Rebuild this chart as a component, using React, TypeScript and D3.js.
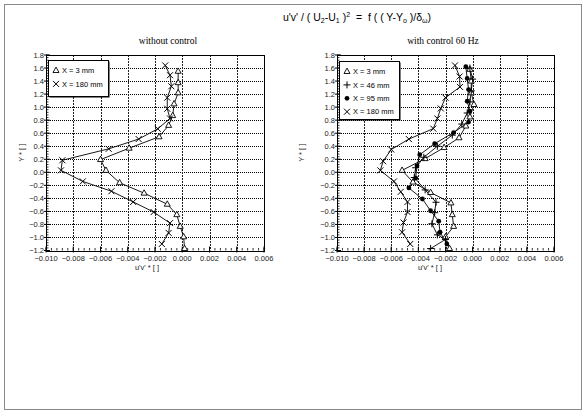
import * as d3 from "d3";
import { useEffect, useRef } from "react";

// ось Y* – уровни измерений и значения u'v'* для каждой серии
// без управления, X = 3 mm
const noCtl3Y = [1.55, 1.375, 1.22, 1.05, 0.87, 0.72, 0.545, 0.37, 0.195, 0.03, -0.16, -0.32, -0.49, -0.65, -0.83, -0.99, -1.17];
const noCtl3U = [-0.0003, -0.0003, -0.0003, -0.0006, -0.0007, -0.001, -0.0017, -0.0039, -0.006, -0.0056, -0.0046, -0.0028, -0.0011, -0.0004, -0.00015, 0.0001, 0.00017];
// без управления, X = 180 mm
const noCtl180Y = [1.64, 1.49, 1.32, 1.145, 0.975, 0.826, 0.667, 0.51, 0.36, 0.185, 0.03, -0.14, -0.29, -0.455, -0.61, -0.78, -0.93, -1.1];
const noCtl180U = [-0.00125, -0.0009, -0.0008, -0.0011, -0.0011, -0.0009, -0.0018, -0.0032, -0.0054, -0.0088, -0.0089, -0.0073, -0.0052, -0.0036, -0.0021, -0.0009, -0.001, -0.0015];

// с управлением 60 Hz, X = 3 mm
const ctl3Y = [1.58, 1.4, 1.22, 1.04, 0.85, 0.71, 0.53, 0.38, 0.21, 0.03, -0.15, -0.31, -0.47, -0.65, -0.83, -0.99, -1.17];
const ctl3U = [-0.0002, -0.0001, -0.0001, 0.0001, -0.0002, -0.0005, -0.001, -0.0021, -0.0035, -0.0052, -0.0044, -0.0031, -0.0016, -0.0015, -0.0014, -0.002, -0.0017];
// с управлением, X = 46 mm
const ctl46Y = [1.6, 1.43, 1.25, 1.08, 0.91, 0.74, 0.57, 0.4, 0.23, 0.07, -0.08, -0.27, -0.46, -0.62, -0.79, -0.96, -1.03, -1.17];
const ctl46U = [-0.0002, 0.0, -0.0001, -0.0002, -0.0004, -0.0008, -0.0015, -0.0026, -0.0036, -0.0042, -0.0043, -0.0035, -0.0027, -0.0028, -0.003, -0.0026, -0.002, -0.0031];
// с управлением, X = 95 mm
const ctl95Y = [1.62, 1.44, 1.27, 1.09, 0.94, 0.77, 0.61, 0.44, 0.27, 0.1, -0.09, -0.24, -0.41, -0.59, -0.75, -0.92, -1.1];
const ctl95U = [-0.0005, -0.0004, -0.0003, -0.0004, -0.0002, -0.0003, -0.0014, -0.0028, -0.0039, -0.0041, -0.0042, -0.0047, -0.0037, -0.0031, -0.0025, -0.0024, -0.0019];
// с управлением, X = 180 mm
const ctl180Y = [1.64, 1.47, 1.31, 1.145, 0.98, 0.826, 0.67, 0.51, 0.35, 0.17, 0.03, -0.14, -0.3, -0.455, -0.61, -0.77, -0.92, -1.1];
const ctl180U = [-0.0013, -0.00096, -0.00093, -0.002, -0.00235, -0.0026, -0.0029, -0.0047, -0.006, -0.0066, -0.0068, -0.0058, -0.0053, -0.0048, -0.0048, -0.0051, -0.0052, -0.0046];

// подписи
const leftLegend = ["X = 3 mm", "X = 180 mm"];
const rightLegend = ["X = 3 mm", "X = 46 mm", "X = 95 mm", "X = 180 mm"];
const xTicks = [-0.01, -0.008, -0.006, -0.004, -0.002, 0, 0.002, 0.004, 0.006];
const yTicks = [-1.2, -1.0, -0.8, -0.6, -0.4, -0.2, 0, 0.2, 0.4, 0.6, 0.8, 1.0, 1.2, 1.4, 1.6, 1.8];

const FONT = "'Liberation Sans', Arial, sans-serif";

const App = () => {
  const svgRef = useRef<SVGSVGElement>(null);

  useEffect(() => {
    const svg = d3.select(svgRef.current);
    svg.selectAll("*").remove();

    //рамка вокруг всего рисунка
    svg.append("rect")
      .attr("x", 4.5).attr("y", 4.5)
      .attr("width", 577).attr("height", 405)
      .attr("fill", "none").attr("stroke", "#8a8a8a");

    //общий заголовок
    const title = svg.append("text")
      .attr("x", 283).attr("y", 21)
      .style("white-space", "pre")
      .style("font-family", FONT).style("font-size", "10.5px").attr("fill", "#000");
    title.append("tspan").text("u'v' / ( U");
    title.append("tspan").text("2").attr("dy", 2).style("font-size", "7px");
    title.append("tspan").text("-U").attr("dy", -2);
    title.append("tspan").text("1").attr("dy", 2).style("font-size", "7px");
    title.append("tspan").text(" )").attr("dy", -2);
    title.append("tspan").text("2").attr("dy", -4.5).style("font-size", "7px");
    title.append("tspan").text("  =  f ( ( Y-Y").attr("dy", 4.5);
    title.append("tspan").text("o").attr("dy", 2).style("font-size", "7px");
    title.append("tspan").text(" )/δ").attr("dy", -2);
    title.append("tspan").text("ω").attr("dy", 2).style("font-size", "7px");
    title.append("tspan").text(")").attr("dy", -2);

    const yScale = d3.scaleLinear().domain([-1.2, 1.8]).range([250.5, 55]);

    //маркеры
    const marker = (g, type, cx, cy) => {
      if (type === "tri") {
        g.append("path")
          .attr("d", `M${cx},${cy - 3.4}L${cx + 3},${cy + 2}L${cx - 3},${cy + 2}Z`)
          .attr("fill", "#fff").attr("stroke", "#000").attr("stroke-width", 0.9);
      } else if (type === "cross") {
        g.append("path")
          .attr("d", `M${cx - 3},${cy - 3}L${cx + 3},${cy + 3}M${cx - 3},${cy + 3}L${cx + 3},${cy - 3}`)
          .attr("stroke", "#000").attr("stroke-width", 1);
      } else if (type === "plus") {
        g.append("path")
          .attr("d", `M${cx - 3.5},${cy}L${cx + 3.5},${cy}M${cx},${cy - 3.5}L${cx},${cy + 3.5}`)
          .attr("stroke", "#000").attr("stroke-width", 1);
      } else {
        g.append("circle").attr("cx", cx).attr("cy", cy).attr("r", 2.4).attr("fill", "#000");
      }
    };

    const drawPanel = (x0, x1, caption, captionX, labelX, yLabelX, series, legend, legendBox) => {
      const xScale = d3.scaleLinear().domain([-0.01, 0.006]).range([x0, x1]);
      const g = svg.append("g");
      const [top, bottom] = [yScale(1.8), yScale(-1.2)];

      //сетка
      g.selectAll(".hg").data(yTicks.slice(1, -1)).enter().append("line")
        .attr("x1", x0).attr("x2", x1)
        .attr("y1", d => Math.round(yScale(d)) + 0.5).attr("y2", d => Math.round(yScale(d)) + 0.5)
        .attr("stroke", "#000").attr("stroke-dasharray", "1,1");
      g.selectAll(".vg").data(xTicks.slice(1, -1)).enter().append("line")
        .attr("x1", d => Math.round(xScale(d)) + 0.5).attr("x2", d => Math.round(xScale(d)) + 0.5)
        .attr("y1", top).attr("y2", bottom)
        .attr("stroke", "#222").attr("stroke-dasharray", "2,1");

      //рамка графика
      g.append("rect")
        .attr("x", x0 + 0.5).attr("y", Math.round(top) + 0.5)
        .attr("width", x1 - x0).attr("height", Math.round(bottom) - Math.round(top))
        .attr("fill", "none").attr("stroke", "#000");

      //мелкие деления
      const yMinor = d3.range(-1.2, 1.8001, 0.04);
      g.selectAll(".ym").data(yMinor).enter().append("line")
        .attr("x1", x0).attr("x2", x0 + 2.5)
        .attr("y1", d => yScale(d)).attr("y2", d => yScale(d))
        .attr("stroke", "#000").attr("stroke-width", 0.8);
      const xMinor = d3.range(-0.01, 0.00601, 0.0004);
      g.selectAll(".xm").data(xMinor).enter().append("line")
        .attr("x1", d => xScale(d)).attr("x2", d => xScale(d))
        .attr("y1", bottom).attr("y2", bottom - 2.5)
        .attr("stroke", "#000").attr("stroke-width", 0.8);
      g.selectAll(".yM").data(yTicks).enter().append("line")
        .attr("x1", x0 - 2).attr("x2", x0 + 4)
        .attr("y1", d => yScale(d)).attr("y2", d => yScale(d))
        .attr("stroke", "#000");
      g.selectAll(".xM").data(xTicks).enter().append("line")
        .attr("x1", d => xScale(d)).attr("x2", d => xScale(d))
        .attr("y1", bottom + 2).attr("y2", bottom - 4)
        .attr("stroke", "#000");

      //подписи делений
      g.selectAll(".yl").data(yTicks).enter().append("text")
        .attr("x", x0 - 2).attr("y", d => yScale(d) + 2.5)
        .attr("text-anchor", "end")
        .style("font-family", FONT).style("font-size", "7.5px").attr("fill", "#222")
        .text(d => d3.format(".1f")(d));
      g.selectAll(".xl").data(xTicks).enter().append("text")
        .attr("x", d => xScale(d)).attr("y", bottom + 10.5)
        .attr("text-anchor", "middle")
        .style("font-family", FONT).style("font-size", "7.5px").attr("fill", "#222")
        .text(d => d3.format(".3f")(d));

      //подписи осей
      g.append("text")
        .attr("x", labelX).attr("y", bottom + 19.5)
        .attr("text-anchor", "middle")
        .style("font-family", FONT).style("font-size", "7.5px").attr("fill", "#222")
        .text("u'v' * [ ]");
      g.append("text")
        .attr("transform", `translate(${yLabelX},${yScale(0.3)}) rotate(-90)`)
        .attr("text-anchor", "middle")
        .style("font-family", FONT).style("font-size", "7.5px").attr("fill", "#222")
        .text("Y * [ ]");

      //заголовок панели
      g.append("text")
        .attr("x", captionX).attr("y", 44)
        .attr("text-anchor", "middle")
        .style("font-family", "'Liberation Serif', 'Times New Roman', serif").style("font-size", "9.5px")
        .text(caption);

      //линии и маркеры
      const line = d3.line<[number, number]>().x(d => xScale(d[0])).y(d => yScale(d[1]));
      series.forEach(s => {
        const pts = s.u.map((u, i) => [u, s.y[i]] as [number, number]);
        g.append("path").attr("d", line(pts)).attr("fill", "none").attr("stroke", "#000").attr("stroke-width", 0.9);
      });
      series.forEach(s => {
        s.u.forEach((u, i) => marker(g, s.type, xScale(u), yScale(s.y[i])));
      });

      //легенда
      const [bx, by, bw, bh] = legendBox;
      g.append("rect").attr("x", bx + 1.5).attr("y", by + 1.5).attr("width", bw).attr("height", bh).attr("fill", "#000");
      g.append("rect").attr("x", bx + 0.5).attr("y", by + 0.5).attr("width", bw).attr("height", bh)
        .attr("fill", "#fff").attr("stroke", "#000");
      legend.forEach((name, i) => {
        const ly = by + 10.5 + i * 13.4;
        marker(g, series[i].type, bx + 8, ly);
        g.append("text").attr("x", bx + 14).attr("y", ly + 2.6)
          .style("font-family", FONT).style("font-size", "7.5px").attr("fill", "#000")
          .text(name);
      });
    };

    drawPanel(46, 264, "without control", 168, 147, 24,
      [{ y: noCtl3Y, u: noCtl3U, type: "tri" }, { y: noCtl180Y, u: noCtl180U, type: "cross" }],
      leftLegend, [48, 60, 60, 36]);

    drawPanel(337, 554, "with control 60 Hz", 443, 430, 304,
      [
        { y: ctl3Y, u: ctl3U, type: "tri" },
        { y: ctl46Y, u: ctl46U, type: "plus" },
        { y: ctl95Y, u: ctl95U, type: "dot" },
        { y: ctl180Y, u: ctl180U, type: "cross" },
      ],
      rightLegend, [339, 61, 60, 58]);
  }, []);

  return (
    <svg ref={svgRef} width={586} height={414}
      style={{ position: "absolute", left: 0, top: 0, background: "#fff" }} />
  );
};

export default App;
